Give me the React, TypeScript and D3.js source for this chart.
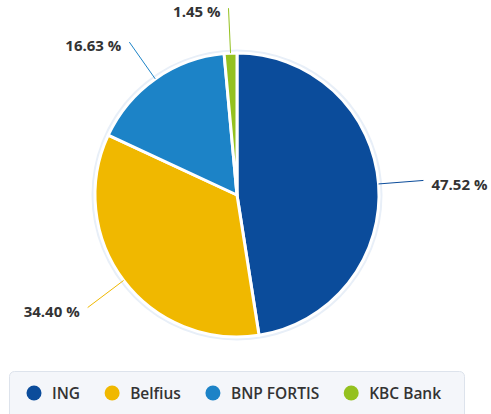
import React, { useEffect, useRef } from "react";
import * as d3 from "d3";

// market shares
const banks = ["ING", "Belfius", "BNP FORTIS", "KBC Bank"];
const shares = [47.52, 34.4, 16.63, 1.45];
const colors = ["#0b4c9b", "#f0b800", "#1c83c7", "#94c11f"];

const W = 491;
const H = 414;

export default function App() {
  const ref = useRef<SVGSVGElement>(null);

  useEffect(() => {
    const svg = d3.select(ref.current);
    svg.selectAll("*").remove();

    const cx = 237, cy = 195, r = 142;
    const data = banks.map((name, i) => ({ name, value: shares[i], color: colors[i] }));

    const pie = d3.pie<any>().sort(null).value(d => d.value);
    const arc = d3.arc<any>().innerRadius(0).outerRadius(r);
    const arcs = pie(data);

    const g = svg.append("g").attr("transform", `translate(${cx},${cy})`);

    // soft halo round the pie
    g.append("circle")
      .attr("r", r + 2)
      .attr("fill", "none")
      .attr("stroke", "#e8eff8")
      .attr("stroke-width", 3);

    g.selectAll("path.slice")
      .data(arcs)
      .enter()
      .append("path")
      .attr("class", "slice")
      .attr("d", arc)
      .attr("fill", d => d.data.color)
      .attr("stroke", "#fff")
      .attr("stroke-width", 3)
      .attr("stroke-linejoin", "round");

    //connector lines and labels
    const conn = 45;
    const lab = g.selectAll("g.lab").data(arcs).enter().append("g").attr("class", "lab");
    const mid = (d: any) => (d.startAngle + d.endAngle) / 2;
    lab.append("line")
      .attr("x1", d => Math.sin(mid(d)) * r)
      .attr("y1", d => -Math.cos(mid(d)) * r)
      .attr("x2", d => Math.sin(mid(d)) * (r + conn))
      .attr("y2", d => -Math.cos(mid(d)) * (r + conn))
      .attr("stroke", d => d.data.color)
      .attr("stroke-width", 1);
    lab.append("text")
      .attr("x", d => Math.sin(mid(d)) * (r + conn) + (Math.sin(mid(d)) >= 0 ? 8 : -8))
      .attr("y", d => -Math.cos(mid(d)) * (r + conn) + 4)
      .attr("dy", "0.35em")
      .attr("text-anchor", d => (Math.sin(mid(d)) >= 0 ? "start" : "end"))
      .attr("font-family", "'Open Sans', sans-serif")
      .attr("font-weight", 700)
      .attr("font-size", 15)
      .attr("fill", "#333")
      .text(d => d.data.value.toFixed(2) + " %");

    // legend
    const lg = svg.append("g");
    lg.append("rect")
      .attr("x", 9.5)
      .attr("y", 371.5)
      .attr("width", 455)
      .attr("height", 60)
      .attr("rx", 5)
      .attr("fill", "#f4f6fa")
      .attr("stroke", "#dde3ec");

    let x = 34;
    data.forEach(d => {
      const item = lg.append("g");
      item.append("circle").attr("cx", x).attr("cy", 393).attr("r", 7.5).attr("fill", d.color);
      const t = item.append("text")
        .attr("x", x + 18)
        .attr("y", 393)
        .attr("dy", "0.36em")
        .attr("font-family", "'Open Sans', sans-serif")
        .attr("font-weight", 600)
        .attr("font-size", 15.5)
        .attr("fill", "#333")
        .text(d.name);
      const w = (t.node() as SVGTextElement).getComputedTextLength();
      x += 18 + w + 32;
    });
  }, []);

  return (
    <svg
      ref={ref}
      width={W}
      height={H}
      style={{ position: "absolute", left: 0, top: 0, background: "#fff" }}
    />
  );
}
